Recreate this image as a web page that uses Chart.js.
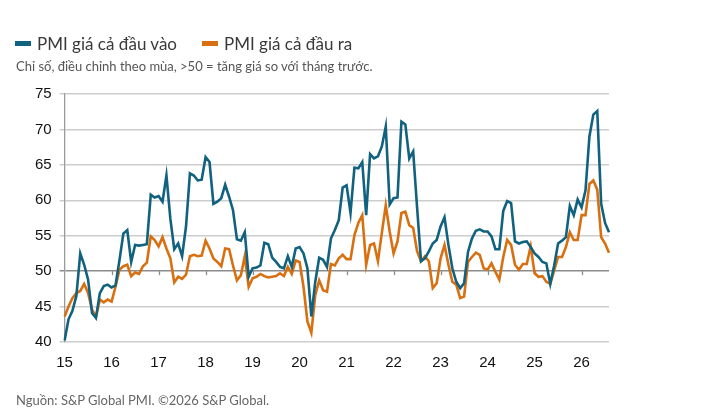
<!DOCTYPE html>
<html lang="vi">
<head>
<meta charset="utf-8">
<script src="https://cdn.jsdelivr.net/npm/chart.js@4.4.1/dist/chart.umd.min.js"></script>
<style>
  body { margin: 0; background: #fff; }
  #khung { position: relative; width: 705px; height: 420px; font-family: Lato, "Open Sans", sans-serif; }
  #bieudo { position: absolute; left: 0; top: 0; width: 705px; height: 420px; }
  .chu-giai { position: absolute; top: 33px; font-size: 17px; color: #3a3a3a; white-space: nowrap; }
  .chu-giai span { display: inline-block; width: 16px; height: 5px; margin-right: 6px; vertical-align: middle; position: relative; top: -2px; }
  #phude { position: absolute; left: 16px; top: 58px; font-size: 13px; color: #555; white-space: nowrap; }
  #nguon { position: absolute; left: 16px; top: 392px; font-size: 13px; color: #666; white-space: nowrap; }
</style>
</head>
<body>
<div id="khung">
  <div id="bieudo"><canvas id="graf"></canvas></div>
  <div class="chu-giai" style="left:15px"><span style="background:#10627f"></span>PMI giá cả đầu vào</div>
  <div class="chu-giai" style="left:202px"><span style="background:#d86f10"></span>PMI giá cả đầu ra</div>
  <div id="phude">Chỉ số, điều chỉnh theo mùa, &gt;50 = tăng giá so với tháng trước.</div>
  <div id="nguon">Nguồn: S&amp;P Global PMI. ©2026 S&amp;P Global.</div>
</div>
<script>
// nhãn năm trên trục hoành (mỗi năm 12 tháng)
let nam = ['15', '16', '17', '18', '19', '20', '21', '22', '23', '24', '25', '26']

// PMI giá cả đầu vào, theo tháng từ 1/2015
let dauVao = [
    40.2, 43.2, 44.4, 46.5, 52.5, 50.9, 48.8, 44.1, 43.4, 46.9, 47.9, 48.1,
    47.7, 48.0, 51.5, 55.3, 55.8, 51.3, 53.7, 53.6, 53.7, 53.8, 60.8, 60.4,
    60.6, 59.8, 63.5, 57.4, 53.1, 53.9, 52.1, 56.3, 63.8, 63.5, 62.8, 62.9,
    66.1, 65.4, 59.5, 59.8, 60.3, 62.2, 60.5, 58.6, 54.5, 54.3, 55.5, 49.2,
    50.4, 50.5, 50.8, 54.0, 53.8, 51.9, 51.3, 50.6, 50.4, 52.1, 50.6, 53.2,
    53.4, 52.5, 50.4, 43.6, 48.5, 51.9, 51.6, 50.6, 54.6, 55.8, 57.2, 61.8,
    62.1, 58.2, 64.6, 64.5, 65.4, 57.9, 66.5, 65.9, 66.2, 67.6, 70.4, 59.4,
    60.3, 60.4, 71.1, 70.7, 65.9, 66.9, 59.0, 51.4, 51.8, 52.8, 53.9, 54.4,
    56.3, 57.6, 53.7, 50.4, 48.5, 47.6, 48.3, 52.7, 54.6, 55.7, 55.9, 55.6,
    55.6, 54.9, 53.1, 53.1, 58.5, 59.9, 59.6, 54.2, 53.9, 54.1, 54.2, 53.4,
    52.5, 52.0, 51.3, 51.1, 48.2, 50.8, 53.9, 54.3, 54.8, 59.2, 57.9, 60.1,
    59.0, 61.4, 69.0, 72.1, 72.6, 59.5, 56.8, 55.5
]

// PMI giá cả đầu ra
let dauRa = [
    43.6, 45.0, 46.2, 46.9, 47.2, 48.2, 46.9, 44.6, 43.5, 46.0, 45.6, 46.0,
    45.7, 47.8, 50.2, 50.7, 50.9, 49.3, 49.8, 49.6, 50.7, 51.2, 54.9, 54.4,
    53.5, 54.8, 53.2, 51.8, 48.4, 49.2, 48.9, 49.5, 52.1, 52.3, 52.1, 52.2,
    54.3, 53.2, 51.8, 51.3, 50.7, 53.2, 53.1, 50.8, 48.7, 49.4, 52.1, 47.8,
    49.0, 49.2, 49.6, 49.3, 49.1, 49.2, 49.3, 49.7, 49.3, 50.6, 49.6, 51.5,
    51.3, 47.8, 42.9, 41.3, 46.6, 48.7, 47.3, 47.1, 51.0, 50.8, 51.8, 52.3,
    51.7, 51.7, 55.1, 56.8, 57.9, 50.9, 53.7, 53.9, 51.4, 55.4, 59.3, 55.6,
    52.5, 54.2, 58.2, 58.4, 56.5, 56.1, 52.8, 51.4, 52.1, 51.4, 47.6, 48.3,
    51.8, 53.7, 50.9, 48.5, 48.1, 46.2, 46.4, 51.3, 52.0, 52.6, 52.3, 50.4,
    50.2, 51.1, 49.9, 48.8, 52.0, 54.4, 53.7, 50.9, 50.2, 51.0, 51.0, 53.5,
    49.7, 49.2, 49.3, 48.5, 48.2, 50.1, 52.0, 52.0, 53.4, 55.5, 54.4, 54.4,
    57.9, 57.9, 62.3, 62.8, 61.5, 54.8, 53.9, 52.6
]

let mocY = [40, 45, 50, 55, 60, 65, 70, 75]

// nhãn tháng: "15-1", "15-2", ...
let thang = []
nam.forEach(n => {
    for (let t = 1; t <= 12; t++) thang.push(n + '-' + t)
})
thang = thang.slice(0, dauVao.length)

// vạch năm nhỏ trên đường 50
const vachNam = {
    id: 'vachNam',
    beforeDatasetsDraw(chart) {
        let x = chart.scales.x, y = chart.scales.y
        let y50 = y.getPixelForValue(50)
        let c = chart.ctx
        c.save()
        c.strokeStyle = '#8c8c8c'
        c.lineWidth = 1.3
        thang.forEach((t, i) => {
            if (i % 12 === 0 && i > 0) {
                let px = Math.round(x.getPixelForValue(i)) + 0.5
                c.beginPath()
                c.moveTo(px, y50)
                c.lineTo(px, y50 + 4)
                c.stroke()
            }
        })
        c.restore()
    }
}

let ctx = document.getElementById('graf').getContext('2d')

new Chart(ctx, {
    type: 'line',
    data: {
        labels: thang,
        datasets: [
            { label: 'PMI giá cả đầu vào', data: dauVao, borderColor: '#10627f', borderWidth: 2.6, pointRadius: 0, tension: 0 },
            { label: 'PMI giá cả đầu ra', data: dauRa, borderColor: '#d86f10', borderWidth: 2.6, pointRadius: 0, tension: 0 }
        ]
    },
    options: {
        responsive: true,
        maintainAspectRatio: false,
        animation: false,
        layout: { padding: { left: 0, top: 94, right: 96, bottom: 38 } },
        plugins: { legend: { display: false }, tooltip: { enabled: false } },
        scales: {
            x: {
                type: 'category',
                offset: false,
                grid: { display: false, drawTicks: false },
                border: { display: false },
                ticks: {
                    autoSkip: false,
                    maxRotation: 0,
                    padding: 12,
                    color: '#111',
                    font: { family: '"Liberation Sans", Arial, sans-serif', size: 15 },
                    callback: (v, i) => i % 12 === 0 ? nam[i / 12] : ''
                },
                afterFit: s => { s.height = 40 }
            },
            y: {
                min: 40,
                max: 75,
                afterBuildTicks: s => { s.ticks = mocY.map(v => ({ value: v })) },
                grid: {
                    color: c => c.tick && c.tick.value === 50 ? '#8c8c8c' : '#cdcdcd',
                    lineWidth: 1.5,
                    tickLength: 5
                },
                border: { display: true, color: '#9a9a9a', width: 1.3 },
                ticks: {
                    padding: 8,
                    color: '#111',
                    font: { family: '"Liberation Sans", Arial, sans-serif', size: 15 }
                },
                afterFit: s => { s.width = 64.6 }
            }
        }
    },
    plugins: [vachNam]
})
</script>
</body>
</html>
